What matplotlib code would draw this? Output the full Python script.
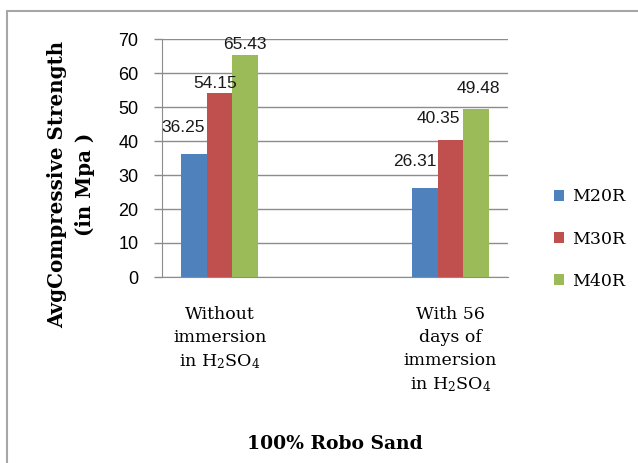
import matplotlib
matplotlib.use("Agg")
import matplotlib.pyplot as plt
import numpy as np
from matplotlib.patches import Rectangle

# chart data
categories = ["Without\nimmersion\nin H$_2$SO$_4$", "", "With 56\ndays of\nimmersion\nin H$_2$SO$_4$"]
series_names = ["M20R", "M30R", "M40R"]
m20r = [36.25, None, 26.31]
m30r = [54.15, None, 40.35]
m40r = [65.43, None, 49.48]
y_ticks = [0, 10, 20, 30, 40, 50, 60, 70]

colors = ["#4F81BD", "#C0504D", "#9BBB59"]
# label nudges (pixels) for each series, per filled category
label_nudge = [[(-11, 22), (-10, 22)], [(-4, 5), (-12, 17)], [(0, 6), (2, 16)]]

plt.rcParams["mathtext.fontset"] = "dejavuserif"

fig = plt.figure(figsize=(6.38, 4.63), dpi=100)
ax = fig.add_axes([162 / 638, 1 - 277 / 463, 346 / 638, 238 / 463])

x = np.arange(len(categories))
width = 1 / 4.5
for i, (name, vals) in enumerate(zip(series_names, [m20r, m30r, m40r])):
    xs = [xi for xi, v in zip(x, vals) if v is not None]
    vs = [v for v in vals if v is not None]
    pos = np.array(xs) + (i - 1) * width
    ax.bar(pos, vs, width, color=colors[i], label=name, zorder=3)
    for j, (px, v) in enumerate(zip(pos, vs)):
        dx, dy = label_nudge[i][j]
        ax.annotate(f"{v:.2f}", (px, v), xytext=(dx, dy), textcoords="offset pixels",
                    ha="center", va="baseline", fontsize=12.5,
                    family="Liberation Sans", color="#1a1a1a", zorder=4)

ax.set_xlim(-0.5, len(categories) - 0.5)
ax.set_ylim(0, 70)
ax.set_yticks(y_ticks)
ax.set_yticklabels([str(t) for t in y_ticks], family="Liberation Sans", fontsize=13)
ax.yaxis.grid(True, color="#8c8c8c", linewidth=1.0, zorder=0)
ax.set_axisbelow(True)

ax.set_xticks(x)
ax.set_xticklabels(categories, family="DejaVu Serif", fontsize=12.5, va="top")
for lbl in ax.get_xticklabels():
    lbl.set_linespacing(1.45)
ax.tick_params(axis="x", length=0, pad=21)
ax.tick_params(axis="y", length=6, width=1, color="#8c8c8c", pad=11)

for side in ["top", "right"]:
    ax.spines[side].set_visible(False)
ax.spines["left"].set_color("#8c8c8c")
ax.spines["bottom"].set_color("#8c8c8c")

ax.set_xlabel("100% Robo Sand", family="DejaVu Serif", fontweight="bold",
              fontsize=13.5)
ax.xaxis.set_label_coords(0.5, -(435 - 277) / 238)

fig.text(71 / 638, 1 - 184 / 463, "AvgCompressive Strength\n(in Mpa )", rotation=90,
         ha="center", va="center", multialignment="center", linespacing=1.45,
         family="DejaVu Serif", fontweight="bold", fontsize=14.3)

ax.legend(loc="center left", bbox_to_anchor=(538 / 638, 1 - 239 / 463),
          bbox_transform=fig.transFigure, frameon=False, handlelength=0.6,
          handleheight=0.6, handletextpad=0.45, labelspacing=1.45,
          prop={"family": "DejaVu Serif", "size": 12.5})

# chart border
fig.patches.append(Rectangle((7 / 638, -0.1), 1.2, 1 - 11 / 463 + 0.1, transform=fig.transFigure,
                             fill=False, edgecolor="#a6a6a6", linewidth=1.5))

fig.savefig("out.png", dpi=100)
